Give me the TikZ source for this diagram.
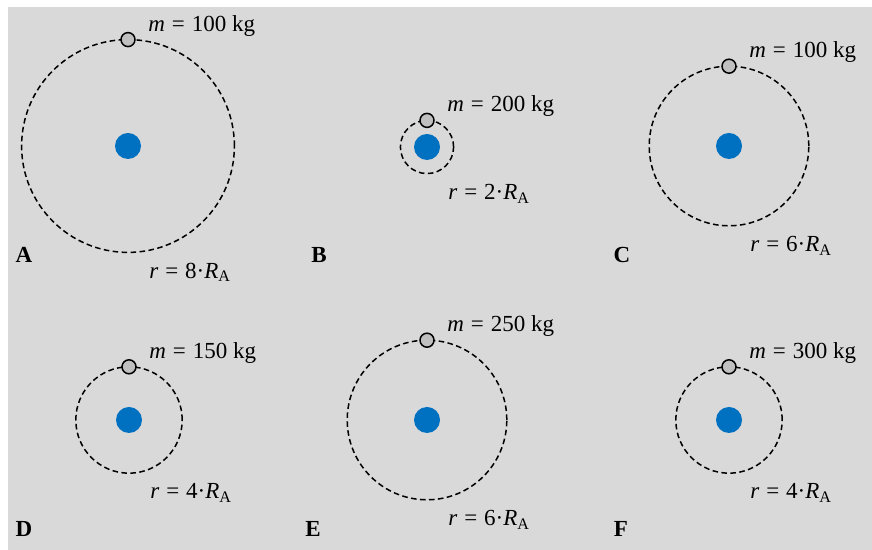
\documentclass[tikz,border=0pt]{standalone}
\usepackage{fontspec}
\setmainfont{Liberation Serif}
\usetikzlibrary{calc}
\definecolor{panelgray}{RGB}{217,217,217}
\definecolor{planetblue}{RGB}{0,112,192}
\definecolor{satgray}{RGB}{192,192,192}
\newcommand{\eqsign}{\hspace{0.3em}=\hspace{0.3em}}

\begin{document}
\begin{tikzpicture}[x=0.5pt,y=0.5pt,
  orbit/.style={dash pattern=on 2.8pt off 1.7pt,line width=0.75pt},
  planet/.style={circle,fill=planetblue,minimum size=13pt,inner sep=0pt},
  sat/.style={circle,draw,fill=satgray,line width=0.75pt,minimum size=7pt,inner sep=0pt},
  lab/.style={font=\fontsize{11.5}{13}\selectfont,inner sep=0pt,anchor=west},
  tag/.style={font=\fontsize{11.5}{13}\selectfont\bfseries,inner sep=0pt}]
\useasboundingbox (0,0) rectangle (872,550);
\fill[panelgray] (8,0) rectangle (872,543);
% one planet, orbit and satellite per panel
\foreach \l/\cx/\cy/\R/\m in {A/128/404/8/100,B/427/403/2/200,C/729/404/6/100,
                              D/129/130/4/150,E/427/130/6/250,F/729/130/4/300}{
  \node[planet] (planet\l) at (\cx,\cy) {};
  \draw[orbit] (planet\l.center) circle ({13.3*\R});
  \node[sat] (sat\l) at ($(planet\l.center)+(0,{13.3*\R})$) {};
  \node[lab] (mass\l) at ($(sat\l)+(20,14)$) {\textit{m}\eqsign\m\ kg};
  \node[lab] (rad\l) at ($(planet\l.center)+(21,{-13.3*\R-20})$) {\textit{r}\eqsign\R·\textit{R}\textsubscript{A}};
}
\foreach \l/\x/\y in {A/24/295,B/319/295,C/622/295,D/24/21,E/313/21,F/621/21}{
  \node[tag] (tag\l) at (\x,\y) {\l};
}
\end{tikzpicture}
\end{document}
